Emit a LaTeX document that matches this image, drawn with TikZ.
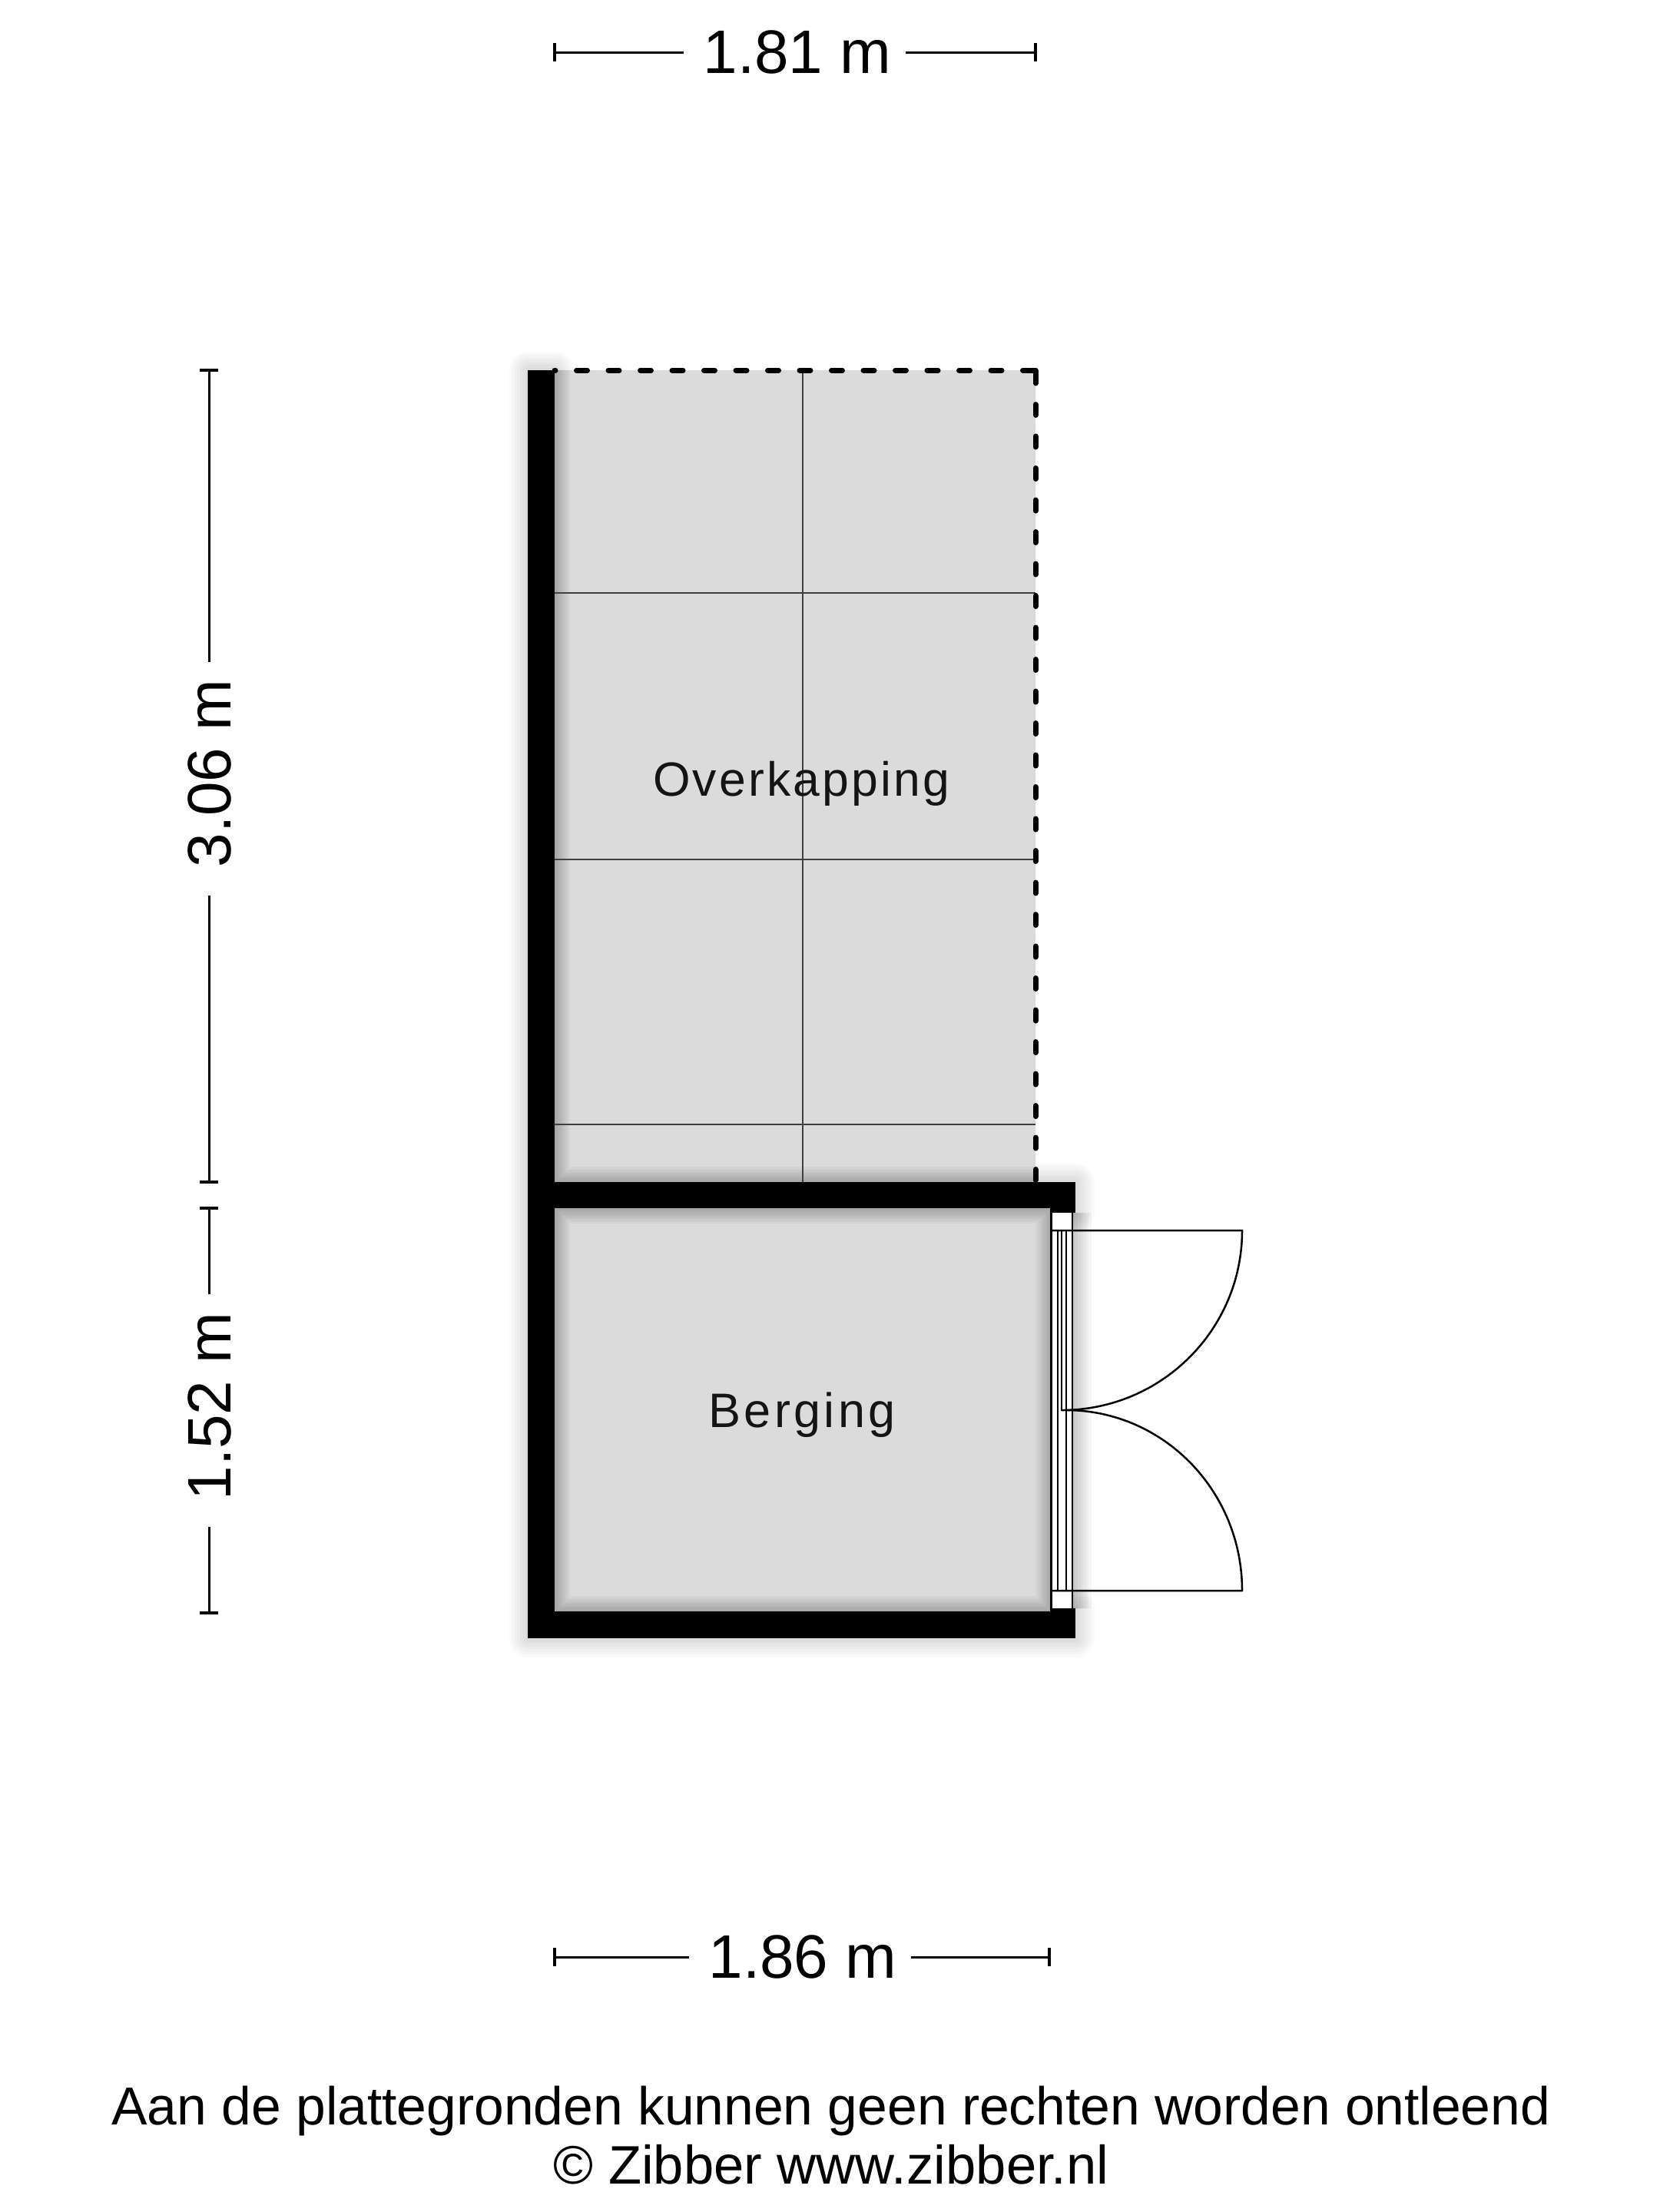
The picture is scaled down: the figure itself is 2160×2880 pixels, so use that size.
\documentclass[tikz,border=0pt]{standalone}
\usepackage{fontspec}
\setmainfont{Liberation Sans}
\newfontfamily\roomfont[LetterSpace=5]{Liberation Sans}
\newfontfamily\bergfont[LetterSpace=7]{Liberation Sans}
\tikzset{
  x=1pt,y=-1pt,
  dimline/.style={draw=black,line width=3pt},
  dimtick/.style={draw=black,line width=3.5pt},
  dimlabel/.style={font=\fontsize{80}{96}\selectfont,inner xsep=26pt,inner ysep=0pt,text=black},
  roomlabel/.style={font=\roomfont\fontsize{62.5}{74}\selectfont,inner sep=0pt,text=black!92},
  berglabel/.style={font=\bergfont\fontsize{63}{74}\selectfont,inner sep=0pt,text=black!92},
  footlabel/.style={font=\fontsize{69.6}{80}\selectfont,inner sep=0pt,text=black},
  footlabelb/.style={font=\fontsize{70.6}{80}\selectfont,inner sep=0pt,text=black},
  gridline/.style={draw=black!75,line width=1.5pt},
  roomfill/.style={fill=black!14,draw=none},
  wallfill/.style={fill=black,draw=none},
  doorline/.style={draw=black,line width=2.5pt},
  dashwall/.style={draw=black,line width=7pt,line cap=round,line join=round},
}
\newcommand{\wallpath}{(687,482) -- (722,482) -- (722,1539) -- (1400,1539) -- (1400,1579) -- (1368,1579) -- (1368,2094) -- (1400,2094) -- (1400,2133) -- (687,2133) -- cycle}
\begin{document}
\begin{tikzpicture}
\useasboundingbox[fill=white] (0,0) rectangle (2160,2880);
% outer shadow
\foreach \w in {7,14,...,49}{
  \draw[black,opacity=.02,line width=\w pt,line join=round] \wallpath;
  \draw[black,opacity=.03,line width=\w pt,line join=round] (1400,1579) -- (1396,1579) -- (1396,2094) -- (1400,2094);
}
% rooms
\fill[roomfill] (722,482) rectangle (1348,1539);
\fill[roomfill] (722,1573) rectangle (1368,2098);
% inner shadow
\begin{scope}
  \clip (722,482) rectangle (1348,1539) (722,1573) rectangle (1368,2098);
  \foreach \w in {5,10,...,40}{
    \draw[black,opacity=.03,line width=\w pt,line join=round] (722,482) -- (722,1539) -- (1348,1539);
    \draw[black,opacity=.03,line width=\w pt,line join=round] (722,1573) rectangle (1368,2098);
  }
\end{scope}
% grid
\draw[gridline] (1045,482) -- (1045,1539);
\draw[gridline] (722,772) -- (1348,772);
\draw[gridline] (722,1119) -- (1348,1119);
\draw[gridline] (722,1464) -- (1348,1464);
% door frame
\fill[white] (1368,1579) rectangle (1396,2094);
\draw[doorline] (1368.5,1579) -- (1368.5,2094);
\draw[doorline] (1396,1579) -- (1396,2094);
\draw[doorline] (1377,1602) -- (1377,2071);
\draw[doorline] (1388,1602) -- (1388,2071);
\draw[doorline] (1382,1602) -- (1382,1836) -- (1395,1836);
% door swing
\draw[doorline,line join=round] (1368,1602) -- (1617,1602) arc[start angle=0,end angle=-90,x radius=235pt,y radius=234pt];
\draw[doorline,line join=round] (1368,2071) -- (1617,2071) arc[start angle=0,end angle=90,x radius=229pt,y radius=235pt];
% walls
\fill[wallfill] (687,482) rectangle (722,2133);
\fill[wallfill] (687,1539) rectangle (1400,1573);
\fill[wallfill] (1367,1573) rectangle (1400,1579);
\fill[wallfill] (687,2098) rectangle (1400,2133);
\fill[wallfill] (1367,2094) rectangle (1400,2098);
% dashed edge
\draw[dashwall,dash pattern=on 14pt off 27.5pt,dash phase=13pt] (722,482) -- (1320,482);
\draw[dashwall] (1331.5,482) -- (1348,482) -- (1348,499);
\draw[dashwall,dash pattern=on 14pt off 27.5pt] (1348,526.5) -- (1348,1539);
% room labels
\node[roomlabel] (over) at (1043,1020) {Overkapping};
\node[berglabel] (berg) at (1044,1842) {Berging};
% dimensions
\node[dimlabel] (dtop) at (1038,68) {1.81 m};
\coordinate (dtopL) at (722,68); \coordinate (dtopR) at (1348,68);
\draw[dimline] (dtopL) -- (dtop.west); \draw[dimline] (dtopR) -- ([xshift=-8pt]dtop.east);
\draw[dimtick] (722,56) -- (722,80); \draw[dimtick] (1348,56) -- (1348,80);
\node[dimlabel] (dbot) at (1045,2548) {1.86 m};
\coordinate (dbotL) at (722,2548); \coordinate (dbotR) at (1366,2548);
\draw[dimline] (dbotL) -- (dbot.west); \draw[dimline] (dbotR) -- ([xshift=-8pt]dbot.east);
\draw[dimtick] (722,2536) -- (722,2560); \draw[dimtick] (1366,2536) -- (1366,2560);
\node[dimlabel,rotate=90] (dlong) at (273,1007) {3.06 m};
\coordinate (dlongT) at (272,482); \coordinate (dlongB) at (272,1539);
\draw[dimline] (dlongT) -- (272,862); \draw[dimline] (dlongB) -- (272,1166);
\draw[dimtick] (260,482) -- (284,482); \draw[dimtick] (260,1539) -- (284,1539);
\node[dimlabel,rotate=90] (dshort) at (273,1831) {1.52 m};
\coordinate (dshortT) at (272,1573); \coordinate (dshortB) at (272,2100);
\draw[dimline] (dshortT) -- (272,1685); \draw[dimline] (dshortB) -- (272,1988);
\draw[dimtick] (260,1573) -- (284,1573); \draw[dimtick] (260,2100) -- (284,2100);
% footer
\node[footlabel] (foot1) at (1082,2748) {Aan de plattegronden kunnen geen rechten worden ontleend};
\node[footlabelb] (foot2) at (1082,2818) {© Zibber www.zibber.nl};
\end{tikzpicture}
\end{document}
